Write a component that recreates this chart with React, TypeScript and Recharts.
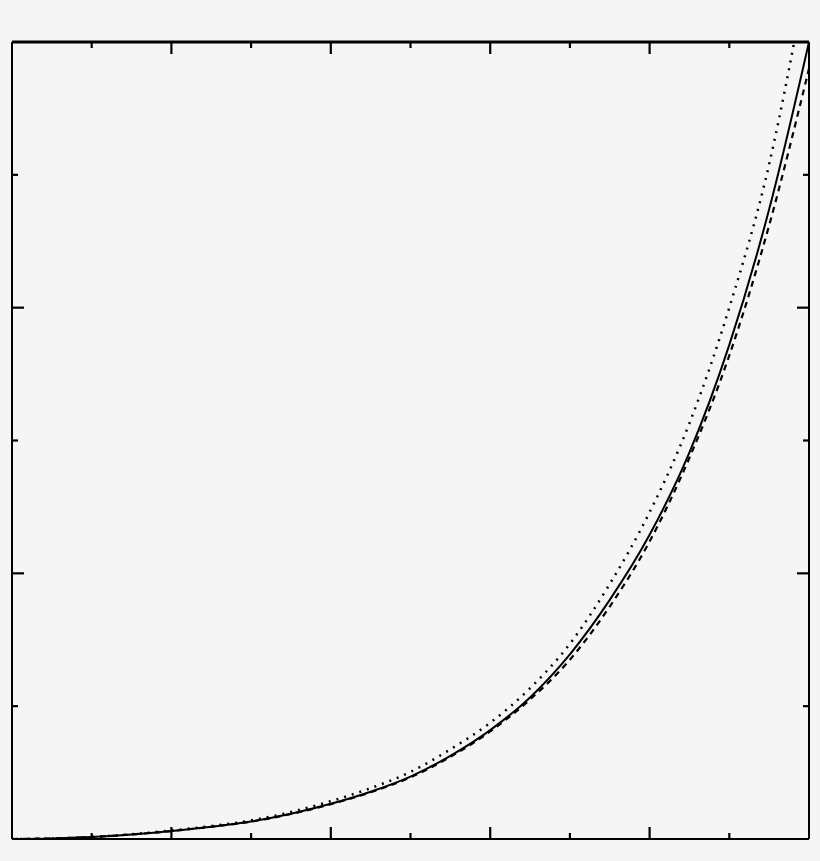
import React from 'react';
import { LineChart, Line, XAxis, YAxis } from 'recharts';

// sample positions along x, and the three curves
const xValues = [0, 0.5, 1, 1.5, 2, 2.5, 3, 3.5, 4, 4.5, 5, 5.5, 6, 6.5, 7, 7.5, 8, 8.5, 9, 9.5, 10];
const solidValues = [0, 0.004, 0.015, 0.034, 0.06, 0.092, 0.132, 0.19, 0.265, 0.356, 0.47, 0.626, 0.82, 1.066, 1.39, 1.8, 2.29, 2.91, 3.72, 4.74, 6.0];
const dottedValues = [0, 0.004, 0.016, 0.036, 0.064, 0.097, 0.14, 0.203, 0.285, 0.383, 0.505, 0.675, 0.875, 1.135, 1.47, 1.92, 2.46, 3.13, 4.0, 5.08, 6.6];
const dashedValues = [0, 0.004, 0.015, 0.034, 0.06, 0.092, 0.131, 0.188, 0.262, 0.352, 0.464, 0.618, 0.81, 1.05, 1.35, 1.75, 2.24, 2.87, 3.64, 4.62, 5.8];

const xTicks = [1, 2, 3, 4, 5, 6, 7, 8, 9];
const yTicks = [1, 2, 3, 4, 5];

const chartData = xValues.map((x, i) => ({
  x,
  solid: solidValues[i],
  dotted: dottedValues[i],
  dashed: dashedValues[i],
}));

type Side = 'top' | 'bottom' | 'left' | 'right';

// inward tick marks, even values long, odd values short
const makeTick = (side: Side) => (props: any) => {
  const { x, y, payload } = props;
  const len = payload.value % 2 === 0 ? 12 : 6;
  let x2 = x;
  let y2 = y;
  if (side === 'bottom') y2 = y - len;
  if (side === 'top') y2 = y + len;
  if (side === 'left') x2 = x + len;
  if (side === 'right') x2 = x - len;
  return <line x1={x} y1={y} x2={x2} y2={y2} stroke="#000" strokeWidth={2.2} />;
};

const App: React.FC = () => {
  return (
    <div style={{ position: 'absolute', top: 0, left: 0, width: 820, height: 861, background: '#f5f5f5' }}>
      <LineChart
        width={820}
        height={861}
        data={chartData}
        margin={{ top: 41, right: 10, left: 11, bottom: 21 }}
      >
        <XAxis
          xAxisId="b"
          dataKey="x"
          type="number"
          domain={[0, 10]}
          ticks={xTicks}
          height={1}
          tickSize={0}
          tickMargin={0}
          tickLine={false}
          axisLine={{ stroke: '#000', strokeWidth: 2 }}
          tick={makeTick('bottom')}
          allowDataOverflow
        />
        <XAxis
          xAxisId="t"
          orientation="top"
          dataKey="x"
          type="number"
          domain={[0, 10]}
          ticks={xTicks}
          height={1}
          tickSize={0}
          tickMargin={0}
          tickLine={false}
          axisLine={{ stroke: '#000', strokeWidth: 3 }}
          tick={makeTick('top')}
          allowDataOverflow
        />
        <YAxis
          yAxisId="l"
          type="number"
          domain={[0, 6]}
          ticks={yTicks}
          width={1}
          tickSize={0}
          tickMargin={0}
          tickLine={false}
          axisLine={{ stroke: '#000', strokeWidth: 2 }}
          tick={makeTick('left')}
          allowDataOverflow
        />
        <YAxis
          yAxisId="r"
          orientation="right"
          type="number"
          domain={[0, 6]}
          ticks={yTicks}
          width={1}
          tickSize={0}
          tickMargin={0}
          tickLine={false}
          axisLine={{ stroke: '#000', strokeWidth: 2 }}
          tick={makeTick('right')}
          allowDataOverflow
        />
        <Line
          xAxisId="b"
          yAxisId="l"
          type="monotone"
          dataKey="dotted"
          stroke="#000"
          strokeWidth={2.5}
          strokeDasharray="2 6"
          dot={false}
          isAnimationActive={false}
        />
        <Line
          xAxisId="b"
          yAxisId="l"
          type="monotone"
          dataKey="dashed"
          stroke="#000"
          strokeWidth={2.2}
          strokeDasharray="6 5"
          dot={false}
          isAnimationActive={false}
        />
        <Line
          xAxisId="b"
          yAxisId="l"
          type="monotone"
          dataKey="solid"
          stroke="#000"
          strokeWidth={2}
          dot={false}
          isAnimationActive={false}
        />
      </LineChart>
    </div>
  );
};

export default App;
